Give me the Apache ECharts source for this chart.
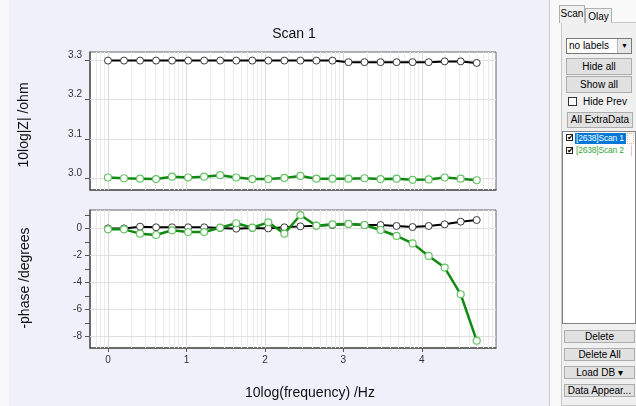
<!DOCTYPE html>
<html>
<head>
<meta charset="utf-8">
<script src="https://cdn.jsdelivr.net/npm/echarts/dist/echarts.min.js"></script>
<style>
  html, body { margin:0; padding:0; }
  body { width:636px; height:406px; position:relative; overflow:hidden; background:#f0f0f0; font-family:"Liberation Sans", Arial, sans-serif; }
  #strip { position:absolute; left:0; top:0; width:9px; height:406px; background:#f8f8fc; }
  #chart { position:absolute; left:9px; top:0; width:540px; height:406px; background:#f0f0fb; }
  #divider { position:absolute; left:549px; top:0; width:1px; height:406px; background:#c8c8d0; }
  #panel { position:absolute; left:550px; top:0; width:86px; height:406px; background:#f9f9f9; font-size:10px; color:#000; }
  .abs { position:absolute; box-sizing:border-box; }
  .btn { position:absolute; box-sizing:border-box; background:#e1e1e1; border:1px solid #adadad; text-align:center; font-size:10px; line-height:13px; color:#000; white-space:nowrap; }
  .tab { position:absolute; box-sizing:border-box; border:1px solid #b0b0b0; border-bottom:none; background:#fff; font-size:10px; text-align:center; line-height:15px; }
  .chk { position:absolute; box-sizing:border-box; width:8px; height:8px; border:1px solid #333; background:#fff; font-size:8px; line-height:6px; text-align:center; }
</style>
</head>
<body>
<div id="strip"></div>
<div id="chart"></div>
<div id="divider"></div>
<div id="panel">
  <div class="abs" style="left:11px;top:22px;width:80px;height:384px;border:1px solid #c8c8c8;background:#f0f0f0;"></div>
  <div class="tab" style="left:9px;top:5px;width:26px;height:18px;background:#f0f0f0;">Scan</div>
  <div class="tab" style="left:35px;top:8px;width:27px;height:15px;background:#f0f0f0;">Olay</div>
  <div class="abs" style="left:16px;top:38px;width:66px;height:16px;border:1px solid #7a7a7a;background:#fff;padding-left:2px;line-height:14px;font-size:10px;">no labels</div>
  <div class="abs" style="left:67px;top:39px;width:14px;height:14px;background:#e6e6e6;border-left:1px solid #bbb;font-size:7px;line-height:14px;text-align:center;">&#9660;</div>
  <div class="btn" style="left:16px;top:58px;width:66px;height:17px;line-height:15px;">Hide all</div>
  <div class="btn" style="left:16px;top:76px;width:66px;height:17px;line-height:15px;">Show all</div>
  <div class="chk" style="left:18px;top:97px;width:9px;height:9px;border-color:#333;"></div>
  <div class="abs" style="left:33px;top:96px;font-size:10px;line-height:11px;">Hide Prev</div>
  <div class="btn" style="left:17px;top:112px;width:66px;height:16px;line-height:14px;">All ExtraData</div>
  <div class="abs" style="left:12px;top:131px;width:74px;height:193px;border:1px solid #828282;background:#fff;"></div>
  <div class="chk" style="left:16px;top:134px;width:7px;height:7px;border-color:#222;">&#10004;</div>
  <div class="abs" style="left:25px;top:133px;width:51px;height:11px;background:#0078d7;color:#fff;font-size:8.5px;line-height:11px;padding-left:1px;white-space:nowrap;overflow:hidden;letter-spacing:-0.2px;">[2638]Scan 1</div>
  <div class="abs" style="left:77px;top:133px;width:7px;height:11px;border:1px dotted #f0b080;"></div>
  <div class="chk" style="left:16px;top:147px;width:7px;height:7px;border-color:#222;">&#10004;</div>
  <div class="abs" style="left:25px;top:145px;width:57px;height:11px;color:#3aa63a;font-size:8.5px;line-height:11px;padding-left:1px;white-space:nowrap;letter-spacing:-0.2px;border-right:1px solid #f4c0c8;">[2638]Scan 2</div>
  <div class="btn" style="left:14px;top:330px;width:71px;height:13px;line-height:11px;">Delete</div>
  <div class="btn" style="left:14px;top:348px;width:71px;height:13px;line-height:11px;">Delete All</div>
  <div class="btn" style="left:14px;top:366px;width:71px;height:13px;line-height:11px;">Load DB &#9662;</div>
  <div class="btn" style="left:14px;top:384px;width:71px;height:13px;line-height:11px;">Data Appear...</div>
</div>
<script>
// ---- data ----
const logFreq = [0.000, 0.204, 0.409, 0.613, 0.817, 1.022, 1.226, 1.430, 1.635, 1.839, 2.043, 2.248,
                 2.452, 2.656, 2.861, 3.065, 3.269, 3.474, 3.678, 3.882, 4.087, 4.291, 4.495, 4.699];
const scan1LogZ = [3.300, 3.300, 3.300, 3.300, 3.300, 3.300, 3.300, 3.300, 3.300, 3.300, 3.300, 3.300,
                   3.300, 3.300, 3.300, 3.296, 3.296, 3.296, 3.296, 3.296, 3.296, 3.298, 3.298, 3.294];
const scan2LogZ = [3.001, 2.999, 2.998, 2.997, 3.003, 3.001, 3.003, 3.007, 3.001, 2.997, 2.997, 3.000,
                   3.005, 2.998, 2.998, 2.998, 2.999, 2.997, 2.998, 2.995, 2.996, 3.001, 2.998, 2.994];
const scan1Phase = [0.02, 0.02, 0.15, 0.10, 0.10, 0.10, 0.10, 0.05, 0.00, 0.05, 0.02, 0.10,
                    0.17, 0.22, 0.27, 0.35, 0.27, 0.27, 0.20, 0.12, 0.20, 0.32, 0.52, 0.64];
const scan2Phase = [-0.05, -0.05, -0.37, -0.47, -0.12, -0.25, -0.25, 0.07, 0.40, 0.07, 0.47, -0.37,
                    1.01, 0.22, 0.32, 0.35, 0.27, -0.10, -0.54, -1.09, -2.02, -2.88, -4.86, -8.30];
const xTickLabels = [0, 1, 2, 3, 4];
const zTickLabels = [3.0, 3.1, 3.2, 3.3];
const phaseTickLabels = [0, -2, -4, -6, -8];
const phaseMinorTicks = [1, -1, -3, -5, -7];
const titleText = 'Scan 1';
const zAxisTitle = '10log|Z| /ohm';
const phaseAxisTitle = '-phase /degrees';
const xAxisTitle = '10log(frequency) /Hz';

// ---- ranges ----
const X_MIN = -0.229, X_MAX = 4.945;
const Z_MIN = 2.969, Z_MAX = 3.322;
const P_MIN = -8.84, P_MAX = 1.383;

function pairs(xs, ys) { return xs.map((x, i) => [x, ys[i]]); }

// logarithmic (per-decade) vertical grid positions in 10log units
const majorV = [], minorV = [];
for (let n = -1; n <= 5; n++) {
  for (let k = 1; k <= 9; k++) {
    const v = n + Math.log10(k);
    if (v > X_MIN + 0.01 && v < X_MAX - 0.005) (k === 1 ? majorV : minorV).push(v);
  }
}

function gridLines(xi, hVals) {
  const d = [];
  minorV.forEach(v => d.push({ xAxis: v, lineStyle: { color: '#ebebeb', width: 1, type: 'solid' } }));
  majorV.forEach(v => d.push({ xAxis: v, lineStyle: { color: '#d9d9d9', width: 1, type: 'solid' } }));
  hVals.forEach(v => d.push({ yAxis: v, lineStyle: { color: '#e0e0e0', width: 1, type: 'solid' } }));
  return {
    type: 'line', xAxisIndex: xi, yAxisIndex: xi, z: 1,
    data: [], symbol: 'none', silent: true, animation: false,
    markLine: { silent: true, z: 1, symbol: ['none', 'none'], label: { show: false }, animation: false,
                lineStyle: { type: 'solid', width: 1, color: '#e6e6e6' }, emphasis: { disabled: true }, data: d }
  };
}

const blackStyle = {
  type: 'line', symbol: 'circle', symbolSize: 7, z: 10, animation: false,
  lineStyle: { color: '#000', width: 2 },
  itemStyle: { color: '#fff', borderColor: '#3a3a3a', borderWidth: 1 }
};
const greenStyle = {
  type: 'line', symbol: 'circle', symbolSize: 7, z: 11, animation: false,
  lineStyle: { color: '#118a11', width: 2.5 },
  itemStyle: { color: '#fff', borderColor: '#66c266', borderWidth: 1.2 }
};

const labelFont = { fontFamily: 'Liberation Sans, Arial, sans-serif', fontSize: 10, color: '#333' };
const chart = echarts.init(document.getElementById('chart'), null, { renderer: 'canvas' });
const OX = 9; // chart div offset

chart.setOption({
  backgroundColor: '#f0f0fb',
  animation: false,
  grid: [
    { left: 90 - OX, top: 52, width: 406, height: 138, show: true, backgroundColor: '#fff', borderColor: '#666', borderWidth: 1 },
    { left: 90 - OX, top: 210, width: 406, height: 138, show: true, backgroundColor: '#fff', borderColor: '#666', borderWidth: 1 }
  ],
  xAxis: [
    { type: 'value', gridIndex: 0, min: X_MIN, max: X_MAX,
      axisLine: { show: true, onZero: false, lineStyle: { color: '#555', width: 1.5 } },
      axisTick: { show: false }, axisLabel: { show: false }, splitLine: { show: false } },
    { type: 'value', gridIndex: 1, min: X_MIN, max: X_MAX,
      axisLine: { show: true, onZero: false, lineStyle: { color: '#555', width: 1.5 } },
      axisTick: { show: true, length: 4, lineStyle: { color: '#555' }, customValues: xTickLabels },
      axisLabel: Object.assign({ show: true, margin: 7, customValues: xTickLabels, formatter: v => String(v) }, labelFont),
      splitLine: { show: false } }
  ],
  yAxis: [
    { type: 'value', gridIndex: 0, min: Z_MIN, max: Z_MAX,
      axisLine: { show: true, onZero: false, lineStyle: { color: '#555', width: 1.5 } },
      axisTick: { show: true, length: 5, lineStyle: { color: '#555' }, customValues: zTickLabels },
      axisLabel: Object.assign({ show: true, margin: 8, customValues: zTickLabels, verticalAlign: 'bottom',
                                 formatter: v => v.toFixed(1) }, labelFont),
      splitLine: { show: false } },
    { type: 'value', gridIndex: 1, min: P_MIN, max: P_MAX,
      axisLine: { show: true, onZero: false, lineStyle: { color: '#555', width: 1.5 } },
      axisTick: { show: true, length: 5, lineStyle: { color: '#555' }, customValues: phaseTickLabels.concat(phaseMinorTicks) },
      axisLabel: Object.assign({ show: true, margin: 8, customValues: phaseTickLabels, verticalAlign: 'middle',
                                 padding: [0, 0, 4, 0], formatter: v => String(v) }, labelFont),
      splitLine: { show: false } }
  ],
  graphic: [
    { type: 'text', x: 294 - OX, y: 34,
      style: { text: titleText, font: '14px "Liberation Sans", Arial, sans-serif', fill: '#111', align: 'center', verticalAlign: 'middle' } },
    { type: 'text', x: 24 - OX, y: 125, rotation: Math.PI / 2,
      style: { text: zAxisTitle, font: '14px "Liberation Sans", Arial, sans-serif', fill: '#111', align: 'center', verticalAlign: 'middle' } },
    { type: 'text', x: 25 - OX, y: 278, rotation: Math.PI / 2,
      style: { text: phaseAxisTitle, font: '14px "Liberation Sans", Arial, sans-serif', fill: '#111', align: 'center', verticalAlign: 'middle' } },
    { type: 'text', x: 310 - OX, y: 393,
      style: { text: xAxisTitle, font: '14px "Liberation Sans", Arial, sans-serif', fill: '#111', align: 'center', verticalAlign: 'middle' } }
  ],
  series: [
    gridLines(0, zTickLabels),
    gridLines(1, phaseTickLabels),
    Object.assign({ name: 'Scan 1', xAxisIndex: 0, yAxisIndex: 0, data: pairs(logFreq, scan1LogZ) }, blackStyle),
    Object.assign({ name: 'Scan 2', xAxisIndex: 0, yAxisIndex: 0, data: pairs(logFreq, scan2LogZ) }, greenStyle),
    Object.assign({ name: 'Scan 1 phase', xAxisIndex: 1, yAxisIndex: 1, data: pairs(logFreq, scan1Phase) }, blackStyle),
    Object.assign({ name: 'Scan 2 phase', xAxisIndex: 1, yAxisIndex: 1, data: pairs(logFreq, scan2Phase) }, greenStyle)
  ]
});
</script>
</body>
</html>
